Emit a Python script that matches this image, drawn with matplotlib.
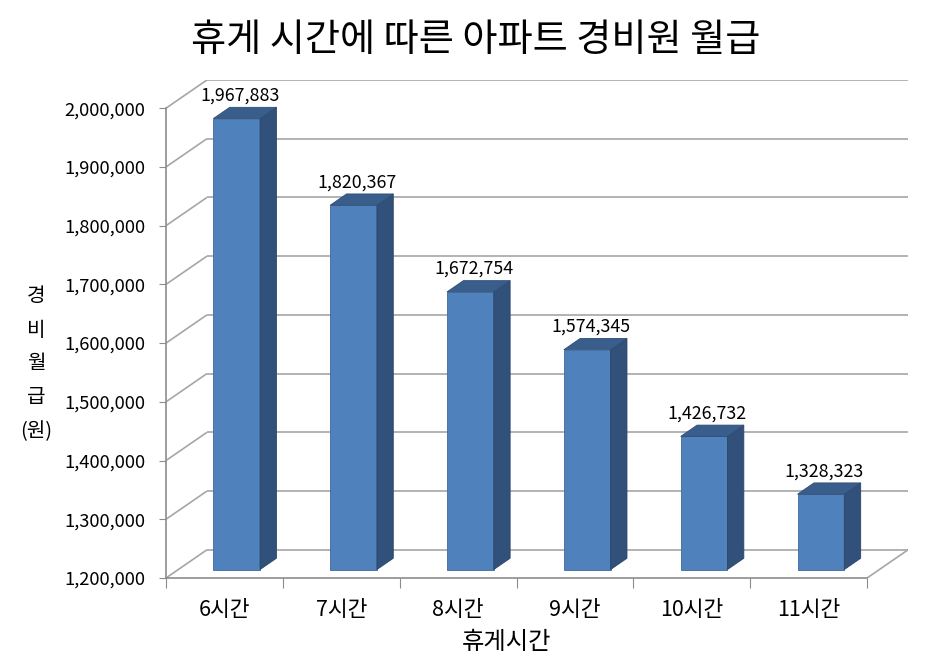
import numpy as np
import matplotlib
matplotlib.use('Agg')
import matplotlib.pyplot as plt
from matplotlib.patches import Polygon
from matplotlib.ticker import FuncFormatter

plt.rcParams['font.family'] = ['Noto Sans CJK KR', 'DejaVu Sans']

# --------------------
# Données
# --------------------
categories = ['6시간', '7시간', '8시간', '9시간', '10시간', '11시간']
salaries = [1967883, 1820367, 1672754, 1574345, 1426732, 1328323]
yticks = [1200000, 1300000, 1400000, 1500000, 1600000, 1700000, 1800000, 1900000, 2000000]

title = '휴게 시간에 따른 아파트 경비원 월급'
xlabel = '휴게시간'
ylabel = '경\n비\n월\n급\n(원)'

# pseudo 3D : profondeur du mur arrière (en unités de données)
DX = 0.35
DY = 48000
ymin, ymax = 1200000, 2000000
n = len(categories)

fig = plt.figure(figsize=(9.32, 6.6), dpi=100)
ax = fig.add_axes([166 / 932, 1 - 578 / 660, 742 / 932, 498 / 660])
ax.set_xlim(0, n + DX)
ax.set_ylim(ymin, ymax + DY)

grid_kw = dict(color='#A6A6A6', lw=1.2, zorder=1, solid_capstyle='butt')

# Grille : mur arrière + diagonales du mur gauche
for v in yticks:
    ax.plot([DX, n + DX], [v + DY, v + DY], **grid_kw)
    ax.plot([0, DX], [v, v + DY], **grid_kw)
# bord droit du sol
ax.plot([n, n + DX], [ymin, ymin + DY], **grid_kw)

# Barres 3D
front_c = '#4F81BD'
side_c = '#31507A'
top_c = '#3A5E8C'
w = 0.4
d0, d1 = 0.3, 0.7
for i, v in enumerate(salaries):
    x0 = i + 0.5 - w / 2 + d0 * DX
    x1 = x0 + w
    yb = ymin + d0 * DY
    yt = v + d0 * DY
    ddx = (d1 - d0) * DX
    ddy = (d1 - d0) * DY
    front = Polygon([(x0, yb), (x1, yb), (x1, yt), (x0, yt)], closed=True,
                    facecolor=front_c, edgecolor='#3D6A9C', lw=0.6, zorder=3)
    side = Polygon([(x1, yb), (x1 + ddx, yb + ddy), (x1 + ddx, yt + ddy), (x1, yt)],
                   closed=True, facecolor=side_c, edgecolor='#2A4669', lw=0.6, zorder=3)
    top = Polygon([(x0, yt), (x1, yt), (x1 + ddx, yt + ddy), (x0 + ddx, yt + ddy)],
                  closed=True, facecolor=top_c, edgecolor='#2F4E77', lw=0.6, zorder=3)
    for p in (front, side, top):
        ax.add_patch(p)
    ax.annotate(f'{v:,}', xy=((x0 + x1) / 2 + ddx * 0.2, v + d1 * DY), xytext=(0, 2),
                textcoords='offset points', ha='center', va='bottom', fontsize=12.8)

# Axes
for s in ['top', 'right']:
    ax.spines[s].set_visible(False)
ax.spines['left'].set_bounds(ymin, ymax)
ax.spines['bottom'].set_bounds(0, n)
for s in ['left', 'bottom']:
    ax.spines[s].set_color('#8C8C8C')
    ax.spines[s].set_linewidth(1.2)

ax.set_yticks(yticks)
ax.yaxis.set_major_formatter(FuncFormatter(lambda v, p: f'{int(v):,}'))
ax.tick_params(axis='y', length=5, color='#8C8C8C', labelsize=13.2, pad=10)

ax.set_xticks(np.arange(n + 1))
ax.set_xticklabels([])
ax.set_xticks(np.arange(n) + 0.5, minor=True)
ax.set_xticklabels(categories, minor=True)
ax.tick_params(axis='x', which='major', length=7, color='#8C8C8C')
ax.tick_params(axis='x', which='minor', length=0, labelsize=15.5, pad=15)

fig.text(507 / 932, 1 - 642 / 660, xlabel, ha='center', va='center', fontsize=17.5)
fig.text(36 / 932, 1 - 364 / 660, ylabel, ha='center', va='center', fontsize=14.5,
         linespacing=1.8)
fig.suptitle(title, x=476 / 932, y=1 - 40 / 660, va='center', fontsize=27.5,
             fontweight='light')

fig.savefig('out.png', dpi=100)
